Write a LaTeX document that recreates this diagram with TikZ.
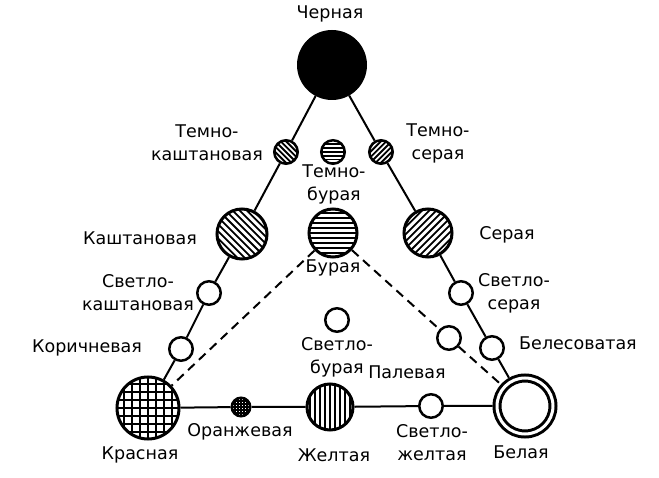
\documentclass[tikz,border=0pt]{standalone}
\usepackage{fontspec}
\setmainfont{DejaVu Sans}
\begin{document}
\begin{tikzpicture}[x=1pt,y=-1pt,
    dot/.style={circle,draw,line width=2.5pt,inner sep=0pt,minimum size=23.5pt,fill=white},
    big/.style={dot,line width=3pt},
    stripes/.style 2 args={path picture={\foreach \k in {-14,...,14}
        \draw[line width=1.8pt] (path picture bounding box.center)
            ++({\k*#2*cos(#1)-40*sin(#1)},{\k*#2*sin(#1)+40*cos(#1)}) -- ++({80*sin(#1)},{-80*cos(#1)});}},
    grid/.style 2 args={path picture={\foreach \k in {-14,...,14} {
        \draw[line width=#2] (path picture bounding box.center) ++(\k*#1,-40) -- ++(0,80);
        \draw[line width=#2] (path picture bounding box.center) ++(-40,\k*#1) -- ++(80,0);}}},
    lbl/.style={font=\fontsize{17.5}{23}\selectfont,align=center,inner sep=0pt},
    edge/.style={line width=2pt}]
    \useasboundingbox (0,0) rectangle (659,478);
    % circles
    \node[big,fill=black,minimum size=67pt](cherna) at (332,65) {};
    \node[dot,stripes={-45}{3.8}](tkasht) at (286,152) {};
    \node[dot,stripes={90}{3.8}](tbur) at (333,152) {};
    \node[dot,stripes={45}{3.8}](tser) at (381,152) {};
    \node[big,minimum size=50pt,stripes={-45}{5}](kasht) at (242,234) {};
    \node[big,minimum size=48pt,stripes={90}{5}](bur) at (333,233) {};
    \node[big,minimum size=48pt,stripes={45}{5}](ser) at (428,233) {};
    \node[dot](skasht) at (209,293) {};
    \node[dot](sbur) at (337,320) {};
    \node[dot](sser) at (461,293) {};
    \node[dot](korich) at (181,349) {};
    \node[dot](pal) at (449,338) {};
    \node[dot](beles) at (492,348) {};
    \node[big,minimum size=62pt,grid={8}{2.2pt}](krasn) at (148,408) {};
    \node[dot,minimum size=18.5pt,grid={3}{1.3pt}](oranzh) at (241,407) {};
    \node[big,minimum size=46pt,stripes={0}{5}](zhelt) at (330,407) {};
    \node[dot](szhelt) at (431,406) {};
    \node[circle,draw,line width=3pt,double,double distance=3pt,inner sep=0pt,
        minimum size=56pt,outer sep=4.5pt](bel) at (525,406) {};
    % lines
    \draw[edge] (cherna)--(tkasht)--(kasht)--(skasht)--(korich)--(krasn);
    \draw[edge] (cherna)--(tser)--(ser)--(sser)--(beles)--(bel);
    \draw[edge] (krasn)--(oranzh)--(zhelt)--(szhelt)--(bel);
    \draw[edge,dash pattern=on 9pt off 6pt] (bur)--(krasn);
    \draw[edge,dash pattern=on 9pt off 6pt] (bur)--(pal)--(bel);
    % labels
    \node[lbl](t-cherna) at (330,14) {Черная};
    \node[lbl](t-tkasht) at (207,143) {Темно-\\каштановая};
    \node[lbl](t-tbur) at (334,184) {Темно-\\бурая};
    \node[lbl](t-tser) at (438,143) {Темно-\\серая};
    \node[lbl](t-kasht) at (140,238) {Каштановая};
    \node[lbl](t-bur) at (333,268) {Бурая};
    \node[lbl](t-ser) at (507,235) {Серая};
    \node[lbl](t-skasht) at (138,293) {Светло-\\каштановая};
    \node[lbl](t-sser) at (514,293) {Светло-\\серая};
    \node[lbl](t-korich) at (87,348) {Коричневая};
    \node[lbl](t-beles) at (578,343) {Белесоватая};
    \node[lbl](t-sbur) at (337,357) {Светло-\\бурая};
    \node[lbl](t-pal) at (407,372) {Палевая};
    \node[lbl](t-oranzh) at (240,432) {Оранжевая};
    \node[lbl](t-krasn) at (140,455) {Красная};
    \node[lbl](t-zhelt) at (334,455) {Желтая};
    \node[lbl](t-szhelt) at (432,443) {Светло-\\желтая};
    \node[lbl](t-bel) at (521,452) {Белая};
\end{tikzpicture}
\end{document}
